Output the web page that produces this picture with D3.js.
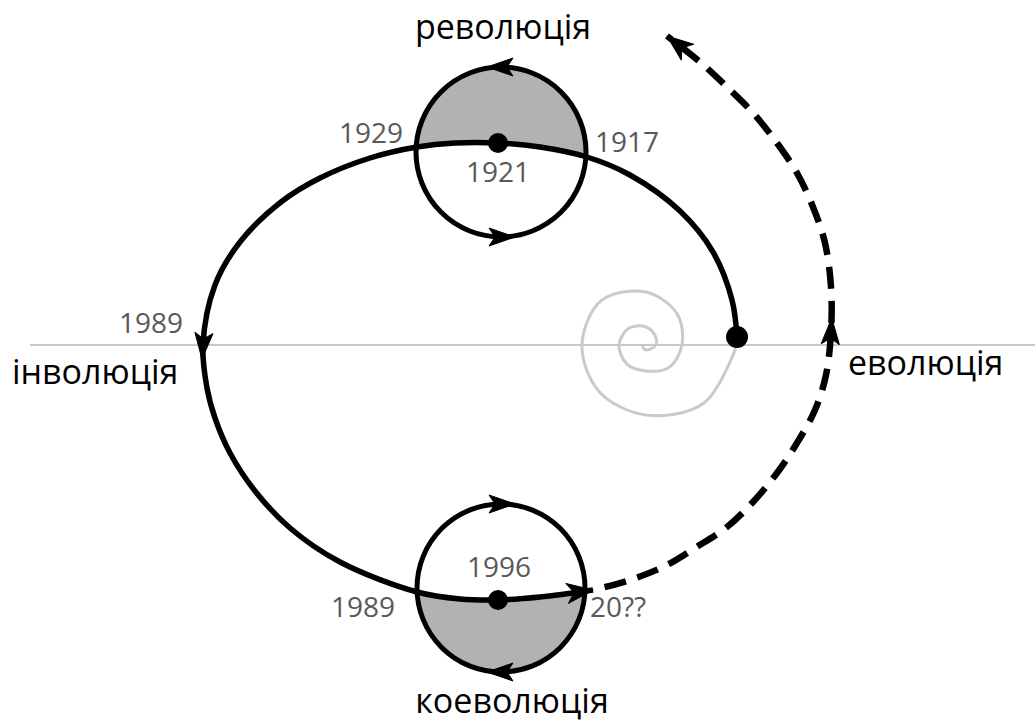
<!DOCTYPE html>
<html lang="uk">
<head>
<meta charset="UTF-8">
<title>революція – еволюція – інволюція – коеволюція</title>
<style>
  body { margin: 0; background: #fff; }
  svg { display: block; }
  text { font-family: "Open Sans", "Noto Sans", sans-serif; }
  .phase { font-size: 34px; fill: #000; }
  .year { font-size: 28px; fill: #595959; }
</style>
<script src="https://d3js.org/d3.v7.min.js"></script>
</head>
<body>
<svg id="chart" width="1035" height="724"></svg>
<script>
// diagram units: origin on the axis under the loop, y grows upward
const loopPath = [
  [267, 8], [262, 45], [243, 93], [210, 134], [160, 170], [117, 188], [70, 198],
  [28, 202], [-15, 202], [-53, 198], [-100, 187], [-150, 167], [-189, 143],
  [-230, 103], [-255, 60], [-267, 0], [-263, -43], [-255, -73], [-240, -108],
  [-215, -146], [-180, -183], [-130, -217], [-53, -247], [-10, -254], [28, -255],
  [70, -252], [123, -245]
];
// dashed continuation (the future)
const futurePath = [
  [123, -245], [160, -235], [195, -221], [225, -203], [257, -182], [283, -157],
  [307, -128], [327, -98], [345, -65], [356, -30], [361, 13], [361, 58],
  [355, 102], [343, 138], [327, 172], [307, 202], [283, 232], [257, 258],
  [230, 283], [197, 309]
];
// grey spiral: radius every eighth of a turn, starting east, turning clockwise
const spiralCenter = [176, 0];
const spiralRadii = [91, 82, 70, 66, 64, 63, 53, 44, 36, 32, 26, 27, 27, 24, 18, 13, 10, 6, 5, 4, 3];

// revolution / coevolution circles: centre, radius, turning direction
const circles = [
  { c: [31, 193], r: 85, dir: -1 },
  { c: [31, -243], r: 84, dir: 1 }
];
const dots = [[28, 202], [28, -255], [267, 8]];

// arrowheads: which path, which vertex
const pathArrows = [
  { path: "loop", at: 15 }, { path: "loop", at: 26, end: true },
  { path: "future", at: 10 }, { path: "future", at: 19, end: true }
];

const phaseNames = ["революція", "еволюція", "коеволюція", "інволюція"];
const phaseAt = [[33, 306], [378, -30], [42, -368], [-458, -39]];
const phaseAnchor = ["middle", "start", "middle", "start"];

const yearNames = ["1917", "1921", "1929", "1989", "1996", "1989", "20??"];
const yearAt = [[125, 193], [28, 163], [-67, 202], [-287, 12], [29, -232], [-75, -272], [120, -272]];
const yearAnchor = ["start", "middle", "end", "end", "middle", "end", "start"];

const axisSpan = [-440, 565];

const svg = d3.select("#chart"),
      width = +svg.attr("width"),
      height = +svg.attr("height");

const x = d3.scaleLinear().domain([-470, 565]).range([0, width]);
const y = d3.scaleLinear().domain([345, -379]).range([0, height]);
const k = x(1) - x(0);

const line = d3.line().x(d => x(d[0])).y(d => y(d[1])).curve(d3.curveCatmullRom);

// horizontal axis
svg.append("line")
  .attr("x1", x(axisSpan[0])).attr("x2", x(axisSpan[1]))
  .attr("y1", y(0)).attr("y2", y(0))
  .attr("stroke", "#c8c8c8").attr("stroke-width", 2);

// spiral
const spiral = d3.lineRadial()
  .angle((d, i) => Math.PI / 2 + i * Math.PI / 4)
  .radius(d => d * k)
  .curve(d3.curveCatmullRom);
svg.append("path")
  .attr("d", spiral(spiralRadii))
  .attr("transform", `translate(${x(spiralCenter[0])},${y(spiralCenter[1])})`)
  .attr("fill", "none").attr("stroke", "#cacaca").attr("stroke-width", 3);

// shaded circles: grey, then the inside of the loop painted white
const defs = svg.append("defs");
circles.forEach((c, i) => {
  defs.append("clipPath").attr("id", "clip" + i)
    .append("circle").attr("cx", x(c.c[0])).attr("cy", y(c.c[1])).attr("r", c.r * k);
  svg.append("circle")
    .attr("cx", x(c.c[0])).attr("cy", y(c.c[1])).attr("r", c.r * k)
    .attr("fill", "#b2b2b2");
  svg.append("path")
    .attr("d", line(loopPath))
    .attr("fill", "#fff")
    .attr("clip-path", `url(#clip${i})`);
});

circles.forEach(c => {
  svg.append("circle")
    .attr("cx", x(c.c[0])).attr("cy", y(c.c[1])).attr("r", c.r * k)
    .attr("fill", "none").attr("stroke", "#000").attr("stroke-width", 5);
});

// main loop and the dashed future
svg.append("path")
  .attr("d", line(loopPath))
  .attr("fill", "none").attr("stroke", "#000").attr("stroke-width", 5.5);

svg.append("path")
  .attr("d", line(futurePath))
  .attr("fill", "none").attr("stroke", "#000").attr("stroke-width", 6.5)
  .attr("stroke-dasharray", "22 12").attr("stroke-dashoffset", -12);

// arrowheads
const headMid = "M14,0 L-12,-9 L-6,0 L-12,9 Z";
const headEnd = "M0,0 L-26,-10 L-19,0 L-26,10 Z";
function head(px, py, deg, d) {
  svg.append("path").attr("d", d).attr("fill", "#000")
    .attr("stroke", "#000").attr("stroke-width", 1).attr("stroke-linejoin", "round")
    .attr("transform", `translate(${px},${py}) rotate(${deg})`);
}
const paths = { loop: loopPath, future: futurePath };
pathArrows.forEach(a => {
  const p = paths[a.path];
  const prev = p[a.at - 1], cur = p[a.at], next = a.end ? cur : p[a.at + 1];
  const dx = x(next[0]) - x(prev[0]), dy = y(next[1]) - y(prev[1]);
  const deg = Math.atan2(dy, dx) * 180 / Math.PI;
  head(x(cur[0]), y(cur[1]), deg, a.end ? headEnd : headMid);
});
circles.forEach(c => {
  [-90, 90].forEach(t => {
    const rad = t * Math.PI / 180;
    const px = x(c.c[0]) + c.r * k * Math.cos(rad);
    const py = y(c.c[1]) + c.r * k * Math.sin(rad);
    head(px, py, t + 90 * c.dir, headMid);
  });
});

// dots
svg.selectAll(".dot").data(dots).enter().append("circle")
  .attr("class", "dot")
  .attr("cx", d => x(d[0])).attr("cy", d => y(d[1]))
  .attr("r", (d, i) => i === 2 ? 11 : 10)
  .attr("fill", "#000");

// labels
svg.selectAll(".phase").data(phaseNames).enter().append("text")
  .attr("class", "phase")
  .attr("x", (d, i) => x(phaseAt[i][0])).attr("y", (d, i) => y(phaseAt[i][1]))
  .attr("text-anchor", (d, i) => phaseAnchor[i])
  .text(d => d);

svg.selectAll(".year").data(yearNames).enter().append("text")
  .attr("class", "year")
  .attr("x", (d, i) => x(yearAt[i][0])).attr("y", (d, i) => y(yearAt[i][1]))
  .attr("text-anchor", (d, i) => yearAnchor[i])
  .text(d => d);
</script>
</body>
</html>
